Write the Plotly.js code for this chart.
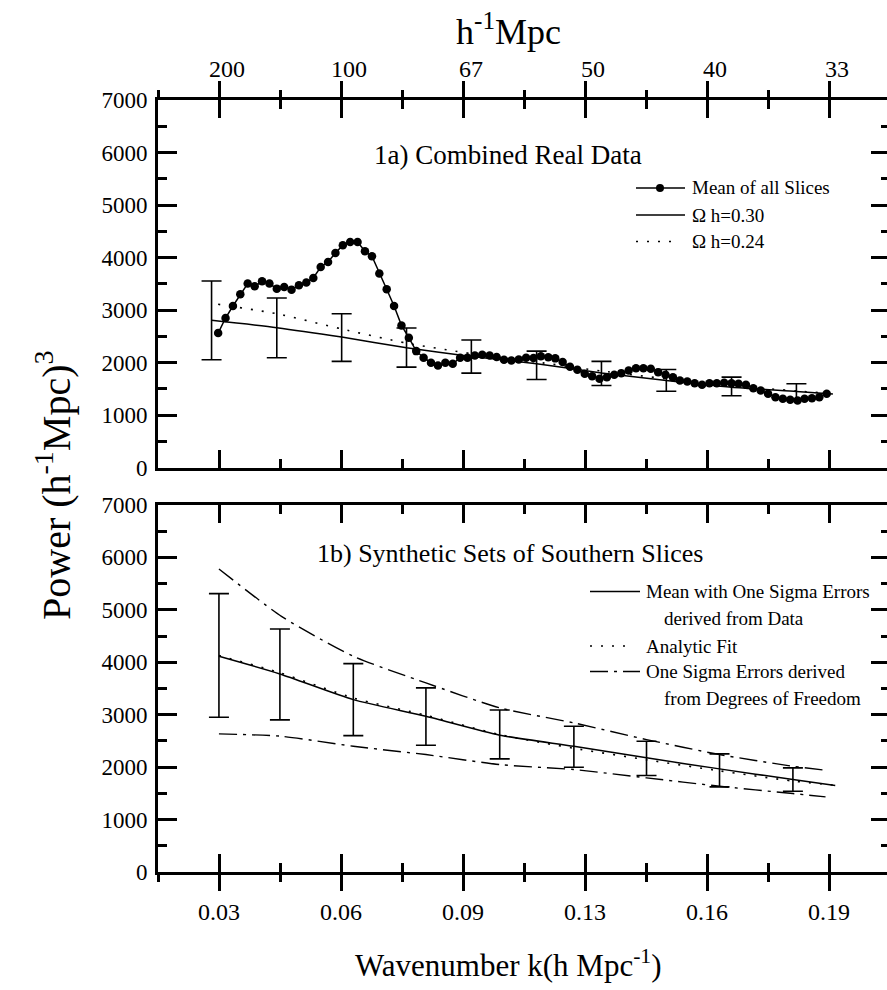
<!DOCTYPE html>
<html><head><meta charset="utf-8">
<script src="https://cdn.plot.ly/plotly-3.0.1.min.js"></script>
<style>html,body{margin:0;padding:0;overflow:hidden;background:#fff}#chart{width:899px;height:990px}</style>
</head><body><div id="chart"></div>
<script>
// ---------- data ----------
const kTicks = [0.031416, 0.062832, 0.094248, 0.125664, 0.15708, 0.188496];
const bottomTickText = ['0.03', '0.06', '0.09', '0.13', '0.16', '0.19'];
const topTickText = ['200', '100', '67', '50', '40', '33'];

// 1a) mean of all slices
const kSlices = [0.0312,0.0331,0.0350,0.0369,0.0388,0.0406,0.0425,0.0444,0.0463,0.0482,
  0.0501,0.0520,0.0539,0.0557,0.0576,0.0595,0.0614,0.0633,0.0652,0.0671,
  0.0690,0.0708,0.0727,0.0746,0.0765,0.0784,0.0803,0.0822,0.0841,0.0860,
  0.0878,0.0897,0.0916,0.0935,0.0954,0.0973,0.0992,0.1011,0.1029,0.1048,
  0.1067,0.1086,0.1105,0.1124,0.1143,0.1162,0.1180,0.1199,0.1218,0.1237,
  0.1256,0.1275,0.1294,0.1313,0.1332,0.1350,0.1369,0.1388,0.1407,0.1426,
  0.1445,0.1464,0.1483,0.1501,0.1520,0.1539,0.1558,0.1577,0.1596,0.1615,
  0.1634,0.1652,0.1671,0.1690,0.1709,0.1728,0.1747,0.1766,0.1785,0.1804,
  0.1822,0.1841,0.1860,0.1879];
const pSlices = [2561,2848,3077,3300,3504,3452,3548,3504,3408,3439,
  3389,3471,3523,3611,3820,3916,4088,4234,4297,4297,
  4120,4024,3694,3395,3077,2708,2474,2218,2092,1997,
  1945,1997,1978,2090,2090,2136,2150,2136,2104,2054,
  2041,2060,2092,2085,2120,2100,2080,2009,1920,1863,
  1787,1741,1692,1722,1768,1799,1850,1894,1894,1882,
  1818,1768,1722,1659,1640,1608,1577,1608,1608,1615,
  1608,1596,1577,1513,1469,1406,1341,1310,1291,1278,
  1310,1322,1341,1406];

// 1a) model curves
const kOmega030 = [0.0295,0.0463,0.0630,0.0797,0.0964,0.1132,0.1299,0.1466,0.1634,0.1801,0.1895];
const pOmega030 = [2804,2665,2485,2283,2117,1978,1803,1659,1532,1450,1400];
const kOmega024 = [0.0312,0.0463,0.0630,0.0797,0.0964,0.1132,0.1299,0.1466,0.1634,0.1801,0.1895];
const pOmega024 = [3110,2930,2640,2370,2170,2010,1840,1690,1560,1460,1410];

// 1a) error bars (upper / lower ends)
const kErrTop = [0.0295,0.0463,0.0630,0.0797,0.0964,0.1132,0.1299,0.1466,0.1634,0.1801];
const pErrTopMid = [2804,2665,2485,2283,2117,1978,1803,1659,1532,1450];
const pErrTopHigh = [3553,3229,2931,2657,2430,2218,2022,1869,1722,1596];
const pErrTopLow = [2054,2092,2022,1913,1799,1678,1564,1455,1367,1290];

// 1b) synthetic sets
const kSynth = [0.0314,0.0471,0.0660,0.0847,0.1037,0.1228,0.1415,0.1603,0.1792,0.1901];
const pSynthMean = [4114,3778,3288,2970,2610,2398,2177,1967,1763,1649];
const pSynthFit = [4130,3800,3320,2990,2620,2360,2140,1930,1735,1655];
const kSynthErr = [0.0314,0.0471,0.0660,0.0847,0.1037,0.1228,0.1415,0.1603,0.1792];
const pSynthErrMid = [4114,3778,3288,2970,2610,2398,2177,1967,1763];
const pSynthErrHigh = [5309,4636,3975,3511,3090,2780,2494,2253,1986];
const pSynthErrLow = [2951,2901,2602,2417,2158,1998,1840,1624,1541];
const kDof = [0.0314,0.0475,0.0660,0.0847,0.1037,0.1228,0.1415,0.1603,0.1792,0.1876];
const pDofHigh = [5780,4876,4114,3607,3130,2844,2526,2240,2017,1940];
const pDofLow = [2634,2589,2398,2240,2049,1954,1795,1636,1496,1433];

// ---------- styling ----------
const FONT = 'Liberation Serif, Times New Roman, serif';
const BLACK = '#000';
const W = 899, H = 990, ML = 158, MR = 9, MT = 100, MB = 118;
const PW = W - ML - MR, PH = H - MT - MB;
const X = px => (px - ML) / PW;
const Y = py => (H - MB - py) / PH;

const xRange = [0.015708, 0.20420];
const errTop = pErrTopHigh.map((v, i) => v - pErrTopMid[i]);
const errTopMinus = pErrTopMid.map((v, i) => v - pErrTopLow[i]);
const errSyn = pSynthErrHigh.map((v, i) => v - pSynthErrMid[i]);
const errSynMinus = pSynthErrMid.map((v, i) => v - pSynthErrLow[i]);

const traces = [
  {x: kSlices, y: pSlices, xaxis: 'x2', yaxis: 'y', mode: 'lines+markers',
   line: {color: BLACK, width: 1.5}, marker: {color: BLACK, size: 8.5}},
  {x: kOmega030, y: pOmega030, xaxis: 'x2', yaxis: 'y', mode: 'lines',
   line: {color: BLACK, width: 1.5, shape: 'spline', smoothing: 0.6}},
  {x: kOmega024, y: pOmega024, xaxis: 'x2', yaxis: 'y', mode: 'lines',
   line: {color: BLACK, width: 1.6, dash: '2px,9px', shape: 'spline', smoothing: 0.6}},
  {x: kErrTop, y: pErrTopMid, xaxis: 'x2', yaxis: 'y', mode: 'markers',
   marker: {size: 1, color: 'rgba(0,0,0,0)'},
   error_y: {type: 'data', symmetric: false, array: errTop, arrayminus: errTopMinus,
             color: BLACK, thickness: 1.6, width: 10}},
  {x: kSynth, y: pSynthMean, xaxis: 'x', yaxis: 'y2', mode: 'lines',
   line: {color: BLACK, width: 1.5, shape: 'spline', smoothing: 0.6}},
  {x: kSynth, y: pSynthFit, xaxis: 'x', yaxis: 'y2', mode: 'lines',
   line: {color: BLACK, width: 1.6, dash: '2px,9px', shape: 'spline', smoothing: 0.6}},
  {x: kDof, y: pDofHigh, xaxis: 'x', yaxis: 'y2', mode: 'lines',
   line: {color: BLACK, width: 1.4, dash: '18px,6px,3px,6px', shape: 'spline', smoothing: 0.6}},
  {x: kDof, y: pDofLow, xaxis: 'x', yaxis: 'y2', mode: 'lines',
   line: {color: BLACK, width: 1.4, dash: '18px,6px,3px,6px', shape: 'spline', smoothing: 0.6}},
  {x: kSynthErr, y: pSynthErrMid, xaxis: 'x', yaxis: 'y2', mode: 'markers',
   marker: {size: 1, color: 'rgba(0,0,0,0)'},
   error_y: {type: 'data', symmetric: false, array: errSyn, arrayminus: errSynMinus,
             color: BLACK, thickness: 1.6, width: 10}},
  // empty traces that only carry the overlaid tick axes
  {x: [], y: [], xaxis: 'x3', yaxis: 'y2', mode: 'markers', hoverinfo: 'skip'},
  {x: [], y: [], xaxis: 'x4', yaxis: 'y', mode: 'markers', hoverinfo: 'skip'}
];

function yAx(domain, anchor) {
  return {domain: domain, anchor: anchor, range: [0, 7000], tickmode: 'linear', tick0: 0, dtick: 1000,
    ticks: 'inside', ticklen: 19, tickwidth: 3, tickcolor: BLACK,
    minor: {tick0: 0, dtick: 500, ticks: 'inside', ticklen: 9, tickwidth: 3, tickcolor: BLACK, showgrid: false},
    showline: true, linewidth: 3, linecolor: BLACK, mirror: 'ticks',
    showgrid: false, zeroline: false, fixedrange: true,
    tickfont: {family: FONT, size: 23, color: BLACK}, ticklabelstandoff: 3};
}
function xInner(anchor) {
  return {anchor: anchor, range: xRange, tickmode: 'array', tickvals: kTicks, showticklabels: false,
    ticks: 'inside', ticklen: 18, tickwidth: 3, tickcolor: BLACK,
    minor: {tickmode: 'linear', tick0: 0.015708, dtick: 0.031416, ticks: 'inside', ticklen: 9, tickwidth: 3, tickcolor: BLACK, showgrid: false},
    showline: true, linewidth: 3, linecolor: BLACK, mirror: 'ticks',
    showgrid: false, zeroline: false, fixedrange: true};
}
function xOuter(over, anchor, side, text, shift, standoff) {
  return {overlaying: over, anchor: anchor, side: side, range: xRange, tickmode: 'array',
    tickvals: kTicks, ticktext: text, ticks: 'outside', ticklen: 18, tickwidth: 3, tickcolor: BLACK,
    minor: {tickmode: 'linear', tick0: 0.015708, dtick: 0.031416, ticks: 'outside', ticklen: 9, tickwidth: 3, tickcolor: BLACK, showgrid: false},
    showline: false, showgrid: false, zeroline: false, fixedrange: true,
    ticklabelshift: shift, ticklabelstandoff: standoff,
    tickfont: {family: FONT, size: 24, color: BLACK}};
}

const txt = (px, py, s, size, xanchor, extra) => Object.assign({
  xref: 'paper', yref: 'paper', x: X(px), y: Y(py), text: s, showarrow: false,
  xanchor: xanchor || 'center', yanchor: 'middle',
  font: {family: FONT, size: size, color: BLACK}}, extra || {});

const annotations = [
  txt(508, 30, 'h<sup>-1</sup>Mpc', 36),
  txt(508, 963, 'Wavenumber k(h Mpc<sup>-1</sup>)', 31),
  txt(53, 485, 'Power (h<sup>-1</sup>Mpc)<sup>3</sup>', 40, 'center', {textangle: -90}),
  txt(508, 155, '1a) Combined Real Data', 27),
  txt(510, 553, '1b) Synthetic Sets of Southern Slices', 26),
  txt(690, 188, 'Mean of all Slices', 19, 'left'),
  txt(690, 215, 'Ω h=0.30', 19, 'left'),
  txt(690, 241.5, 'Ω h=0.24', 19, 'left'),
  txt(644, 591.5, 'Mean with One Sigma Errors', 19, 'left'),
  txt(662, 618.5, 'derived from Data', 19, 'left'),
  txt(644, 646, 'Analytic Fit', 19, 'left'),
  txt(644, 671.5, 'One Sigma Errors derived', 19, 'left'),
  txt(662, 698, 'from Degrees of Freedom', 19, 'left')
];

const seg = (x0, x1, py, dash, w) => ({type: 'line', xref: 'paper', yref: 'paper',
  x0: X(x0), x1: X(x1), y0: Y(py), y1: Y(py), line: {color: BLACK, width: w || 1.5, dash: dash || 'solid'}});
const shapes = [
  seg(636, 685, 188),
  {type: 'circle', xref: 'paper', yref: 'paper', x0: X(656), x1: X(664), y0: Y(192), y1: Y(184),
   fillcolor: BLACK, line: {color: BLACK, width: 0}},
  seg(636, 685, 215),
  seg(636, 680, 241.5, '2px,9px', 1.6),
  seg(590, 640, 591.5),
  seg(590, 634, 646, '2px,9px', 1.6),
  seg(590, 640, 671.5, '18px,6px,3px,6px', 1.4)
];

const layout = {
  width: W, height: H, margin: {l: ML, r: MR, t: MT, b: MB, pad: 0},
  paper_bgcolor: '#fff', plot_bgcolor: 'rgba(0,0,0,0)', showlegend: false,
  font: {family: FONT, color: BLACK},
  yaxis: yAx([Y(467.6), 1], 'x2'),
  yaxis2: yAx([0, Y(505)], 'x'),
  xaxis: xInner('y2'),
  xaxis2: xInner('y'),
  xaxis3: xOuter('x', 'y2', 'bottom', bottomTickText, 0, 0),
  xaxis4: xOuter('x2', 'y', 'top', topTickText, 8, -6),
  annotations: annotations,
  shapes: shapes
};

Plotly.newPlot('chart', traces, layout, {displayModeBar: false, staticPlot: true});
</script></body></html>
